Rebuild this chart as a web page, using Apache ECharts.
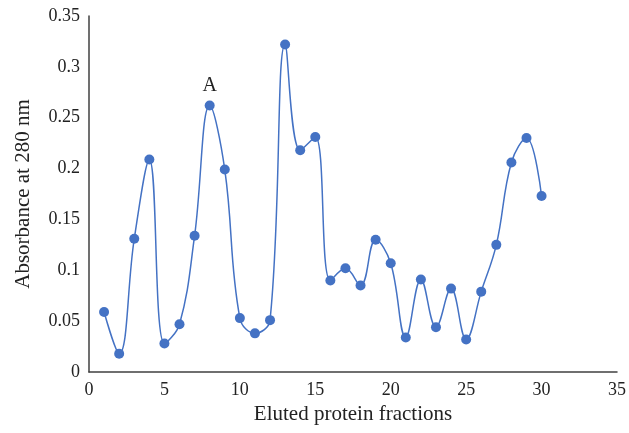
<!DOCTYPE html>
<html>
<head>
<meta charset="utf-8">
<script src="https://cdn.jsdelivr.net/npm/echarts@6/dist/echarts.min.js"></script>
<style>
  html, body { margin: 0; padding: 0; background: #fff; }
  #chart { width: 629px; height: 433px; }
</style>
</head>
<body>
<div id="chart"></div>
<script>
var fractions = [1, 2, 3, 4, 5, 6, 7, 8, 9, 10, 11, 12, 13, 14, 15,
                 16, 17, 18, 19, 20, 21, 22, 23, 24, 25, 26, 27, 28, 29, 30];
var absorbance = [0.059, 0.018, 0.131, 0.209, 0.028, 0.047, 0.134, 0.262, 0.199, 0.053,
                  0.038, 0.051, 0.322, 0.218, 0.231, 0.090, 0.102, 0.085, 0.130, 0.107,
                  0.034, 0.091, 0.044, 0.082, 0.032, 0.079, 0.125, 0.206, 0.230, 0.173];
var peakLabel = { index: 7, text: 'A' };

var fontFamily = '"Liberation Serif", "DejaVu Serif", serif';
var axisColor = '#404040';
var textColor = '#222';

var seriesData = fractions.map(function (x, i) {
    var item = { value: [x, absorbance[i]] };
    if (i === peakLabel.index) {
        item.label = {
            show: true,
            position: 'top',
            distance: 5,
            formatter: peakLabel.text,
            fontFamily: fontFamily,
            fontSize: 20,
            color: textColor
        };
    }
    return item;
});

var myChart = echarts.init(document.getElementById('chart'));
myChart.setOption({
    animation: false,
    grid: { left: 89, right: 9, top: 16, bottom: 61 },
    xAxis: {
        type: 'value',
        min: 0,
        max: 35,
        interval: 5,
        name: 'Eluted protein fractions',
        nameLocation: 'middle',
        nameGap: 28,
        nameTextStyle: { fontFamily: fontFamily, fontSize: 21, color: textColor },
        axisLine: { show: true, lineStyle: { color: axisColor, width: 1.5 } },
        axisTick: { show: false },
        splitLine: { show: false },
        axisLabel: { fontFamily: fontFamily, fontSize: 18, color: textColor, margin: 9 }
    },
    yAxis: {
        type: 'value',
        min: 0,
        max: 0.35,
        interval: 0.05,
        name: 'Absorbance at 280 nm',
        nameLocation: 'middle',
        nameGap: 55,
        nameTextStyle: { fontFamily: fontFamily, fontSize: 21, color: textColor },
        axisLine: { show: true, lineStyle: { color: axisColor, width: 1.5 } },
        axisTick: { show: false },
        splitLine: { show: false },
        axisLabel: {
            fontFamily: fontFamily, fontSize: 18, color: textColor, margin: 9,
            formatter: function (v) { return String(Math.round(v * 100) / 100); }
        }
    },
    series: [{
        type: 'line',
        data: seriesData,
        smooth: 0.4,
        symbol: 'circle',
        symbolSize: 10,
        itemStyle: { color: '#4472C4' },
        lineStyle: { color: '#4472C4', width: 1.5 }
    }]
});
</script>
</body>
</html>
